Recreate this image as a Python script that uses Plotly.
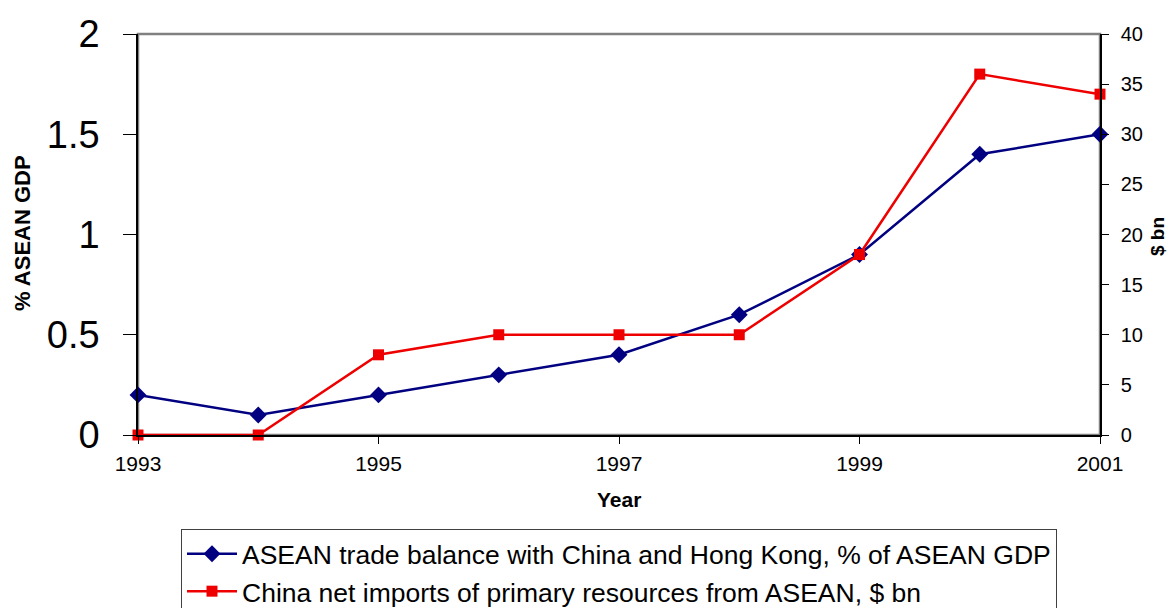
import plotly.graph_objects as go

years = [1993, 1994, 1995, 1996, 1997, 1998, 1999, 2000, 2001]
trade_balance_pct_gdp = [0.2, 0.1, 0.2, 0.3, 0.4, 0.6, 0.9, 1.4, 1.5]
china_net_imports_bn = [0, 0, 8, 10, 10, 10, 18, 36, 34]

x_ticks = [1993, 1995, 1997, 1999, 2001]
left_ticks = [0, 0.5, 1, 1.5, 2]
left_tick_text = ["0", "0.5", "1", "1.5", "2"]
right_ticks = [0, 5, 10, 15, 20, 25, 30, 35, 40]

name_blue = "ASEAN trade balance with China and Hong Kong, % of ASEAN GDP"
name_red = "China net imports of primary resources from ASEAN, $ bn"

BLUE = "#000080"
RED = "#ee0000"
FONT = "Liberation Sans, Arial, sans-serif"

# plot-area geometry in pixels
L, R, T, B = 138, 69, 34, 173
W, H = 1169, 608
PW, PH = W - L - R, H - T - B


def px_x(x):
    return (x - L) / PW


def px_y(y):
    return (H - B - y) / PH


fig = go.Figure()
fig.add_trace(go.Scatter(
    x=years, y=trade_balance_pct_gdp, name=name_blue, mode="lines+markers",
    line=dict(color=BLUE, width=2.5),
    marker=dict(symbol="diamond", size=13, color=BLUE),
    cliponaxis=False, yaxis="y",
))
fig.add_trace(go.Scatter(
    x=years, y=china_net_imports_bn, name=name_red, mode="lines+markers",
    line=dict(color=RED, width=2.5),
    marker=dict(symbol="square", size=11, color=RED),
    cliponaxis=False, yaxis="y2",
))

fig.update_layout(
    width=W, height=H,
    margin=dict(l=L, r=R, t=T, b=B, autoexpand=False),
    paper_bgcolor="white", plot_bgcolor="white",
    font=dict(family=FONT, color="black"),
    showlegend=True,
    legend=dict(
        x=px_x(181), y=px_y(529), xanchor="left", yanchor="top",
        bordercolor="#404040", borderwidth=1,
        font=dict(size=26.5, family=FONT), tracegroupgap=0,
        itemwidth=50,
    ),
    xaxis=dict(
        range=[1993, 2001], tickvals=x_ticks, ticks="outside", ticklen=7,
        tickcolor="black", showline=True, linecolor="black", linewidth=1.5,
        showgrid=False, zeroline=False, tickfont=dict(size=21),
        ticklabelstandoff=2,
    ),
    yaxis=dict(
        range=[0, 2], tickvals=left_ticks, ticktext=left_tick_text,
        ticks="outside", ticklen=13, tickcolor="black",
        showline=True, linecolor="black", linewidth=1.5,
        showgrid=False, zeroline=False, tickfont=dict(size=38),
        ticklabelstandoff=16,
    ),
    yaxis2=dict(
        range=[0, 40], tickvals=right_ticks, overlaying="y", side="right",
        ticks="outside", ticklen=7, tickcolor="black",
        showline=True, linecolor="black", linewidth=1.5,
        showgrid=False, zeroline=False, tickfont=dict(size=20),
        ticklabelstandoff=8,
    ),
    shapes=[dict(
        type="rect", xref="paper", yref="paper", x0=0, x1=1, y0=0, y1=1,
        line=dict(color="#808080", width=2.5), layer="below",
    )],
    annotations=[
        dict(text="<b>% ASEAN GDP</b>", textangle=-90, xref="paper", yref="paper",
             x=px_x(23), y=px_y(233), xanchor="center", yanchor="middle",
             showarrow=False, font=dict(size=22)),
        dict(text="<b>$ bn</b>", textangle=-90, xref="paper", yref="paper",
             x=px_x(1157), y=px_y(237), xanchor="center", yanchor="middle",
             showarrow=False, font=dict(size=19)),
        dict(text="<b>Year</b>", xref="paper", yref="paper",
             x=px_x(619), y=px_y(499), xanchor="center", yanchor="middle",
             showarrow=False, font=dict(size=21)),
    ],
)

fig.write_html("out.html")
